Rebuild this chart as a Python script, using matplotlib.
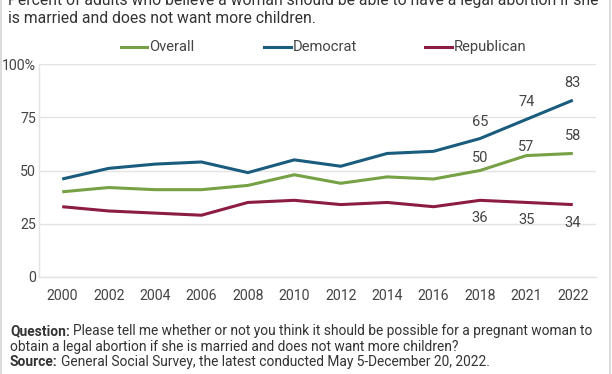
import matplotlib
matplotlib.use("Agg")
import matplotlib.pyplot as plt
from matplotlib.lines import Line2D

plt.rcParams['font.family'] = ['Roboto', 'DejaVu Sans']

years = ["2000", "2002", "2004", "2006", "2008", "2010", "2012", "2014", "2016", "2018", "2021", "2022"]
overall = [40, 42, 41, 41, 43, 48, 44, 47, 46, 50, 57, 58]
democrat = [46, 51, 53, 54, 49, 55, 52, 58, 59, 65, 74, 83]
republican = [33, 31, 30, 29, 35, 36, 34, 35, 33, 36, 35, 34]
series_names = ["Overall", "Democrat", "Republican"]
colors = ["#76a145", "#195c7e", "#8c1c40"]
yticks = [0, 25, 50, 75, 100]
ytick_labels = ["0", "25", "50", "75", "100%"]
labeled_idx = [9, 10, 11]

title = ("Percent of adults who believe a woman should be able to have a legal abortion if she\n"
         "is married and does not want more children.")

W, H = 612, 374
fig = plt.figure(figsize=(W/100, H/100), dpi=100)
ax = fig.add_axes([39/W, 1-277/H, (596-39)/W, (277-64)/H])

x = list(range(len(years)))
for vals, c in zip([overall, democrat, republican], colors):
    ax.plot(x, vals, color=c, lw=2.2, solid_capstyle='butt', zorder=3)

txtc = "#444444"
pt = 0.72  # points per pixel
dem_off = [16.5, 17.5, 17]
ov_off = [12.5, 8.6, 17.5]
rep_off = [-18, -18, -18.5]
for k, i in enumerate(labeled_idx):
    ax.annotate(str(democrat[i]), (x[i], democrat[i]), xytext=(0, dem_off[k]*pt), textcoords='offset points',
                ha='center', va='center', fontsize=10.5, color=txtc)
    ax.annotate(str(overall[i]), (x[i], overall[i]), xytext=(0, ov_off[k]*pt), textcoords='offset points',
                ha='center', va='center', fontsize=10.5, color=txtc)
    ax.annotate(str(republican[i]), (x[i], republican[i]), xytext=(0, rep_off[k]*pt), textcoords='offset points',
                ha='center', va='center', fontsize=10.5, color=txtc)

ax.set_xlim(-0.5, len(years) - 0.5)
ax.set_ylim(0, 100)
ax.set_yticks(yticks)
ax.set_yticklabels(ytick_labels)
ax.set_xticks(x)
ax.set_xticklabels(years)
ax.tick_params(axis='both', length=0, labelsize=10.2, colors=txtc)
ax.tick_params(axis='y', pad=2)
ax.tick_params(axis='x', pad=9)
ax.grid(axis='y', color='#e3e3e3', lw=1)
ax.set_axisbelow(True)
for s in ['top', 'right']:
    ax.spines[s].set_visible(False)
for s in ['left', 'bottom']:
    ax.spines[s].set_color('#e3e3e3')
    ax.spines[s].set_linewidth(1)

# legend (manual placement)
leg_y = 1 - 47/H
leg_x = [(121, 147), (264, 291), (425, 452)]
for (x0, x1), c, name in zip(leg_x, colors, series_names):
    fig.add_artist(Line2D([x0/W, x1/W], [leg_y, leg_y], color=c, lw=2.2, transform=fig.transFigure))
    fig.text((x1 + 2)/W, leg_y, name, ha='left', va='center', fontsize=10.6, color=txtc)

fig.text(8/W, 1-9/H, title, ha='left', va='center', fontsize=11.3, color='#333333', linespacing=1.25)

fy = 1-331/H
dy = 15.5/H
fs = 9.9
q = fig.text(10/W, fy, "Question:", ha='left', va='center', fontsize=fs, color='#333333', fontweight='bold')
fig.canvas.draw()
r = fig.canvas.get_renderer()
qw = q.get_window_extent(r).width
fig.text((10 + qw + 3)/W, fy, "Please tell me whether or not you think it should be possible for a pregnant woman to",
         ha='left', va='center', fontsize=fs, color='#333333')
fig.text(10/W, fy - dy, "obtain a legal abortion if she is married and does not want more children?",
         ha='left', va='center', fontsize=fs, color='#333333')
s = fig.text(10/W, fy - 2*dy, "Source:", ha='left', va='center', fontsize=fs, color='#333333', fontweight='bold')
sw = s.get_window_extent(r).width
fig.text((10 + sw + 3)/W, fy - 2*dy, "General Social Survey, the latest conducted May 5-December 20, 2022.",
         ha='left', va='center', fontsize=fs, color='#333333')

# frame borders
fig.add_artist(Line2D([0.5/W, 0.5/W], [0, 1], color='#d6d6d6', lw=1.2, transform=fig.transFigure))
fig.add_artist(Line2D([609.5/W, 609.5/W], [0, 1], color='#d6d6d6', lw=1.2, transform=fig.transFigure))

fig.savefig("out.png", dpi=100)
